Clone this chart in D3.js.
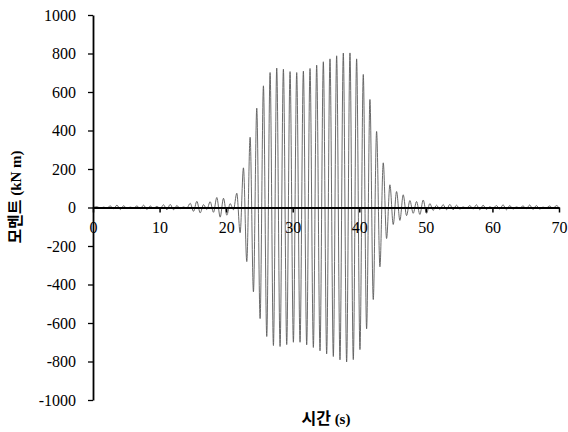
<!DOCTYPE html>
<html><head><meta charset="utf-8">
<script src="https://cdn.jsdelivr.net/npm/d3@7"></script>
<style>body{margin:0;background:#fff}svg{display:block}</style>
</head><body><svg id="c" width="568" height="432"></svg>
<script>
// Positive peaks (one per cycle, at t = 0.6, 1.6, ... 69.6 s)
const posPeaks = [4,2,8,12,9,2,8,12,8,6,14,16,10,3,22,32,15,30,52,48,
  20,74,206,365,516,632,701,724,718,706,701,708,722,739,757,772,788,802,803,772,
  691,561,395,232,118,83,66,36,31,39,20,12,15,16,12,3,10,14,12,4,
  10,14,10,3,8,13,10,2,8,10];
// Negative peaks (half a cycle later, at t = 1.1, 2.1, ... 69.1 s)
const negPeaks = [-3,-2,-6,-10,-6,-2,-6,-10,-5,-5,-12,-12,-6,-3,-20,-28,-10,-25,-50,-40,
  -12,-131,-281,-438,-577,-670,-717,-722,-712,-700,-700,-713,-727,-744,-760,-774,-791,-802,-790,-738,
  -630,-478,-308,-161,-88,-67,-42,-30,-36,-30,-15,-10,-12,-12,-8,-3,-8,-12,-10,-3,
  -8,-12,-8,-2,-6,-10,-8,-2,-6];
const xTicks = [0,10,20,30,40,50,60,70];
const yTicks = [-1000,-800,-600,-400,-200,0,200,400,600,800,1000];
const xTitle = "시간";
const yTitle = "모멘트";

const svg = d3.select("#c");
const x = d3.scaleLinear().domain([0,70]).range([93,559]);
const y = d3.scaleLinear().domain([-1000,1000]).range([400,15]);

const pts = [{t:0,v:0}];
posPeaks.forEach((v,i)=>{
  pts.push({t:0.6+i, v:v});
  if(i<negPeaks.length) pts.push({t:1.1+i, v:negPeaks[i]});
});
pts.push({t:70,v:0});

svg.append("path").datum(pts)
  .attr("fill","none").attr("stroke","#5a5a5a").attr("stroke-width",0.9)
  .attr("d", d3.line().x(d=>x(d.t)).y(d=>y(d.v)).curve(d3.curveMonotoneX));

const serif = "'Liberation Serif','Times New Roman',serif";
const fmt = d => String(d);
// y axis
const ya = svg.append("g").attr("transform","translate(93,0)")
  .call(d3.axisLeft(y).tickValues(yTicks).tickFormat(fmt).tickSize(5).tickSizeOuter(0).tickPadding(12));
ya.select(".domain").attr("stroke","#000").attr("stroke-width",1.8);
ya.selectAll(".tick line").attr("stroke","#000").attr("stroke-width",1.3);
ya.selectAll("text").attr("font-family",serif).attr("font-size",16).attr("fill","#000");

// x axis at y = 0
const xa = svg.append("g").attr("transform",`translate(0,${y(0)})`)
  .call(d3.axisBottom(x).tickValues(xTicks).tickFormat(fmt).tickSize(5).tickSizeOuter(0).tickPadding(9));
xa.select(".domain").attr("stroke","#000").attr("stroke-width",2);
xa.selectAll(".tick line").attr("stroke","#000").attr("stroke-width",1.5);
xa.selectAll("text").attr("font-family",serif).attr("font-size",16).attr("fill","#000");

// titles
const xt = svg.append("text").attr("x",326).attr("y",424).attr("text-anchor","middle")
  .attr("font-weight","bold").attr("font-size",16);
xt.append("tspan").attr("font-family","'Noto Sans CJK KR',sans-serif").text(xTitle+" ");
xt.append("tspan").attr("font-family",serif).attr("font-size",15).text("(s)");

const yt = svg.append("text").attr("transform","translate(21,197) rotate(-90)")
  .attr("text-anchor","middle").attr("font-weight","bold").attr("font-size",16);
yt.append("tspan").attr("font-family","'Noto Sans CJK KR',sans-serif").text(yTitle+" ");
yt.append("tspan").attr("font-family",serif).attr("font-size",15).text("(kN m)");
</script></body></html>
